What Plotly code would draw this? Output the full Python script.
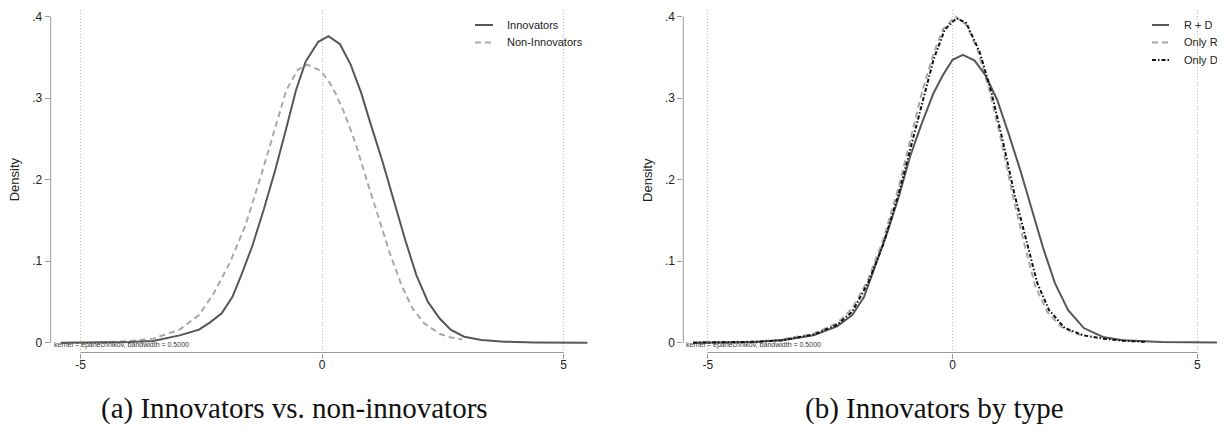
import plotly.graph_objects as go

# ---------------- data ----------------
innov_x = [-5.41, -4.5, -4.0, -3.5, -2.95, -2.55, -2.32, -2.08, -1.86, -1.68, -1.45, -1.21, -0.97, -0.77,
           -0.54, -0.34, -0.08, 0.13, 0.37, 0.59, 0.81, 1.0, 1.24, 1.48, 1.72, 1.95, 2.19, 2.43, 2.66, 2.94,
           3.3, 3.77, 4.4, 5.49]
innov_y = [0.0, 0.0003, 0.0008, 0.002, 0.009, 0.016, 0.025, 0.036, 0.056, 0.082, 0.118, 0.163, 0.212, 0.257,
           0.310, 0.345, 0.369, 0.376, 0.366, 0.341, 0.306, 0.269, 0.224, 0.175, 0.126, 0.083, 0.050, 0.030,
           0.016, 0.0074, 0.0033, 0.0012, 0.0004, 0.0]

noninnov_x = [-4.6, -4.0, -3.5, -2.95, -2.55, -2.24, -1.92, -1.6, -1.29, -0.97, -0.74, -0.50, -0.30, -0.02,
              0.21, 0.45, 0.69, 0.92, 1.16, 1.40, 1.64, 1.87, 2.11, 2.43, 2.66, 2.90]
noninnov_y = [0.0005, 0.002, 0.005, 0.016, 0.034, 0.061, 0.097, 0.142, 0.200, 0.265, 0.310, 0.335, 0.341,
              0.333, 0.314, 0.283, 0.245, 0.200, 0.155, 0.110, 0.071, 0.042, 0.024, 0.011, 0.0065, 0.004]

rd_x = [-5.3, -4.5, -4.0, -3.47, -2.84, -2.36, -2.05, -1.81, -1.58, -1.34, -1.10, -0.87, -0.63, -0.39, -0.20,
        0.0, 0.21, 0.45, 0.67, 0.91, 1.14, 1.38, 1.62, 1.85, 2.09, 2.36, 2.68, 3.07, 3.47, 4.26, 5.57]
rd_y = [0.0, 0.0004, 0.001, 0.003, 0.009, 0.020, 0.034, 0.056, 0.093, 0.134, 0.179, 0.228, 0.269, 0.306, 0.328,
        0.347, 0.353, 0.346, 0.328, 0.298, 0.257, 0.212, 0.163, 0.116, 0.073, 0.040, 0.018, 0.007, 0.003, 0.001, 0.0]

onlyr_x = [-5.3, -4.5, -4.0, -3.5, -2.84, -2.36, -2.05, -1.73, -1.42, -1.10, -0.87, -0.63, -0.39, -0.20, 0.05,
           0.28, 0.51, 0.75, 0.99, 1.22, 1.46, 1.69, 1.93, 2.21, 2.52, 2.70]
onlyr_y = [0.0, 0.0006, 0.0015, 0.004, 0.011, 0.024, 0.042, 0.077, 0.126, 0.191, 0.249, 0.306, 0.355, 0.384,
           0.400, 0.390, 0.359, 0.310, 0.249, 0.183, 0.122, 0.069, 0.038, 0.020, 0.011, 0.008]

onlyd_x = [-5.3, -4.5, -4.0, -3.5, -2.84, -2.36, -2.05, -1.73, -1.42, -1.10, -0.87, -0.63, -0.39, -0.16, 0.08,
           0.28, 0.55, 0.79, 1.02, 1.26, 1.50, 1.73, 1.97, 2.29, 2.68, 3.07, 3.47, 3.94]
onlyd_y = [0.0, 0.0005, 0.0012, 0.003, 0.010, 0.022, 0.038, 0.073, 0.120, 0.183, 0.236, 0.294, 0.347, 0.384,
           0.398, 0.392, 0.357, 0.308, 0.249, 0.183, 0.126, 0.073, 0.040, 0.018, 0.009, 0.005, 0.0025, 0.001]

x_tickvals = [-5, 0, 5]
x_ticktext = ["-5", "0", "5"]
y_tickvals = [0, 0.1, 0.2, 0.3, 0.4]
y_ticktext = ["0", ".1", ".2", ".3", ".4"]

left_legend = ["Innovators", "Non-Innovators"]
right_legend = ["R + D", "Only R", "Only D"]
captions = ["(a) Innovators vs. non-innovators", "(b) Innovators by type"]
note = "kernel = epanechnikov, bandwidth = 0.5000"

# ---------------- styles / layout ----------------
OFF = 8                      # page body margin
FW, FH = 1225 - 2 * OFF, 432 - 2 * OFF
C_SOLID = "#575757"
C_DASH = "#a9a9a9"
C_DD = "#111111"
DASH = "6px,4px"
DASHDOT = "4px,2px,1.5px,2px"
AX_COL = "#9a9a9a"
FONT = "Liberation Sans, Arial, sans-serif"


def rx(p):
    return (p - OFF) / FW


def ry(p):
    return 1 - (p - OFF) / FH


XR1 = [-5.62, 5.51]
XR2 = [-5.50, 5.40]
YR = [-0.0120, 0.408]
XD1 = [rx(50.7), rx(588.3)]
XD2 = [rx(683.3), 1.0]
YD = [ry(352.5), ry(10)]

fig = go.Figure()


def add_line(x, y, color, dash, xa, ya, name):
    fig.add_trace(go.Scatter(x=x, y=y, mode="lines", name=name, showlegend=False,
                             line=dict(color=color, width=2, dash=dash),
                             xaxis=xa, yaxis=ya, hoverinfo="skip"))


add_line(noninnov_x, noninnov_y, C_DASH, DASH, "x", "y", left_legend[1])
add_line(innov_x, innov_y, C_SOLID, "solid", "x", "y", left_legend[0])
add_line(onlyr_x, onlyr_y, C_DASH, DASH, "x2", "y2", right_legend[1])
add_line(rd_x, rd_y, C_SOLID, "solid", "x2", "y2", right_legend[0])
add_line(onlyd_x, onlyd_y, C_DD, DASHDOT, "x2", "y2", right_legend[2])

xcommon = dict(tickvals=x_tickvals, ticktext=x_ticktext, showgrid=True, gridcolor="#bdbdbd",
               griddash="1px,2px", gridwidth=1, zeroline=False, showline=False, ticks="outside",
               ticklen=5, tickcolor=AX_COL, tickwidth=1, ticklabelstandoff=-4,
               tickfont=dict(family=FONT, size=12, color="#222"))
ycommon = dict(range=YR, domain=YD, tickvals=y_tickvals, ticktext=y_ticktext, showgrid=False,
               zeroline=False, showline=False, ticks="outside", ticklen=5, tickcolor=AX_COL,
               tickwidth=1, tickfont=dict(family=FONT, size=12, color="#222"))

fig.update_layout(
    width=FW, height=FH, margin=dict(l=0, r=0, t=0, b=0),
    paper_bgcolor="white", plot_bgcolor="white", showlegend=False,
    xaxis=dict(range=XR1, domain=XD1, anchor="y", **xcommon),
    yaxis=dict(anchor="x", **ycommon),
    xaxis2=dict(range=XR2, domain=XD2, anchor="y2", **xcommon),
    yaxis2=dict(anchor="x2", **ycommon),
)


def frac(v, r):
    return (v - r[0]) / (r[1] - r[0])


shapes = []
annotations = []
for xr, xs, ys in [(XR1, "x", "y"), (XR2, "x2", "y2")]:
    shapes.append(dict(type="line", xref=f"{xs} domain", yref=f"{ys} domain",
                       x0=0, x1=0, y0=frac(y_tickvals[0], YR), y1=frac(y_tickvals[-1], YR),
                       line=dict(color=AX_COL, width=1)))
    shapes.append(dict(type="line", xref=f"{xs} domain", yref=f"{ys} domain",
                       x0=frac(x_tickvals[0], xr), x1=frac(x_tickvals[-1], xr), y0=0, y1=0,
                       line=dict(color=AX_COL, width=1)))
    annotations.append(dict(text="Density", xref=f"{xs} domain", yref=f"{ys} domain",
                            x=0, xshift=-36, y=frac(0.2, YR), textangle=-90, showarrow=False,
                            font=dict(family=FONT, size=13, color="#222"), xanchor="center",
                            yanchor="middle"))
    annotations.append(dict(text=note, xref=f"{xs} domain", yref=f"{ys} domain",
                            x=0, xshift=1, y=frac(-0.003, YR), showarrow=False, xanchor="left",
                            yanchor="middle", font=dict(family=FONT, size=7, color="#333")))

leg_specs = [
    (475, 493, 505, [(left_legend[0], C_SOLID, "solid"), (left_legend[1], C_DASH, DASH)]),
    (1152, 1169, 1182, [(right_legend[0], C_SOLID, "solid"), (right_legend[1], C_DASH, DASH),
                        (right_legend[2], C_DD, DASHDOT)]),
]
for x0, x1, xt, items in leg_specs:
    for i, (lab, col, dsh) in enumerate(items):
        yy = 25 + i * 17.5
        shapes.append(dict(type="line", xref="paper", yref="paper", x0=rx(x0), x1=rx(x1),
                           y0=ry(yy), y1=ry(yy), line=dict(color=col, width=2, dash=dsh)))
        annotations.append(dict(text=lab, xref="paper", yref="paper", x=rx(xt), y=ry(yy),
                                xanchor="left", yanchor="middle", showarrow=False,
                                font=dict(family=FONT, size=11, color="#222")))

for cap, cx in zip(captions, [294, 934]):
    annotations.append(dict(text=cap, xref="paper", yref="paper", x=rx(cx), y=ry(408),
                            xanchor="center", yanchor="middle", showarrow=False,
                            font=dict(family="Liberation Serif, DejaVu Serif, serif", size=29,
                                      color="#111")))

fig.update_layout(shapes=shapes, annotations=annotations)
fig.write_html("out.html")
